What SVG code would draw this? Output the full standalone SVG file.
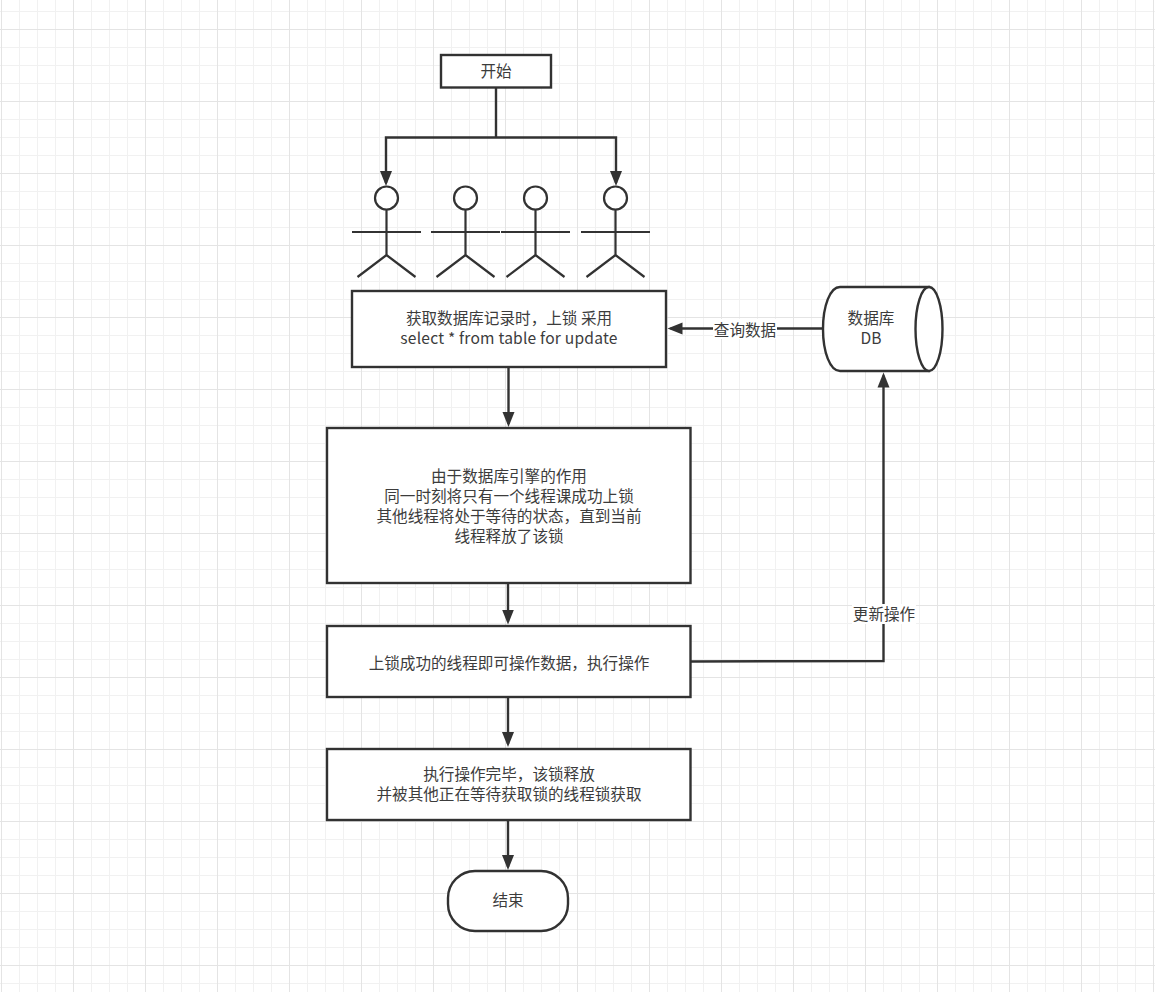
<svg xmlns="http://www.w3.org/2000/svg" width="1155" height="992" viewBox="0 0 1155 992">
<style>
.s{fill:#fff;stroke:#323232;stroke-width:2.4}
.c{fill:none;stroke:#323232;stroke-width:2.4}
.h{fill:#fff;stroke:#323232;stroke-width:2.2}
.b{fill:none;stroke:#323232;stroke-width:2.2}
text{font-family:"Noto Sans CJK SC","Liberation Sans",sans-serif;font-size:15.6px;fill:#3c3c3c;text-anchor:middle}
.l{letter-spacing:.2px}
</style>
<defs>
<pattern id="minor" width="18" height="18" patternUnits="userSpaceOnUse" x="1" y="11">
<path d="M0.5 0V18M0 0.5H18" fill="none" stroke="#f1f1f1" stroke-width="1"/>
</pattern>
<pattern id="major" width="72" height="72" patternUnits="userSpaceOnUse" x="1" y="29">
<path d="M0.5 0V72M0 0.5H72" fill="none" stroke="#e4e4e4" stroke-width="1"/>
</pattern>
<marker id="arr" markerWidth="16" markerHeight="13" refX="12" refY="6.500" orient="auto" markerUnits="userSpaceOnUse">
<path d="M0 0.5L15 6.500L0 12.500Z" fill="#323232"/>
</marker>
<g id="actor">
<circle cx="0" cy="11" r="11.500" class="h"/>
<path class="b" d="M0 22.500V68M-34.500 45H34.500M-29 90L0 68L29 90"/>
</g>
</defs>
<rect width="1155" height="992" fill="#fff"/>
<rect width="1155" height="992" fill="url(#minor)"/>
<rect width="1155" height="992" fill="url(#major)"/>
<g id="connectors">
<path class="c" d="M496 88V137.500"/>
<path class="c" d="M496 137.500H386V183" marker-end="url(#arr)"/>
<path class="c" d="M496 137.500H616V183" marker-end="url(#arr)"/>
<path class="c" d="M823 328.500H670.500" marker-end="url(#arr)"/>
<path class="c" d="M508.500 368V424" marker-end="url(#arr)"/>
<path class="c" d="M508 584V621.500" marker-end="url(#arr)"/>
<path class="c" d="M508 698V744" marker-end="url(#arr)"/>
<path class="c" d="M508 821V867" marker-end="url(#arr)"/>
<path class="c" d="M691 661.500L883.500 661V375.500" marker-end="url(#arr)"/>
</g>
<g id="start"><rect class="s" x="441" y="55" width="110" height="32.500"/><text x="496" y="77">开始</text></g>
<g id="actor1"><use href="#actor" x="386.500" y="187"/></g>
<g id="actor2"><use href="#actor" x="465.500" y="187"/></g>
<g id="actor3"><use href="#actor" x="535.500" y="187"/></g>
<g id="actor4"><use href="#actor" x="615.500" y="187"/></g>
<g id="lock"><rect class="s" x="352" y="291" width="314" height="76"/><text x="509" y="324">获取数据库记录时，上锁 采用</text><text class="l" x="509" y="344">select * from table for update</text></g>
<g id="db"><path class="s" d="M840 287H929V371H840C830 371 823 352 823 329C823 306 830 287 840 287Z"/><ellipse class="s" cx="929" cy="329" rx="13.500" ry="42"/><text x="871" y="324">数据库</text><text x="871" y="344">DB</text></g>
<g id="engine"><rect class="s" x="327" y="428" width="363.500" height="155"/><text x="509" y="482">由于数据库引擎的作用</text><text x="509" y="502">同一时刻将只有一个线程课成功上锁</text><text x="509" y="522">其他线程将处于等待的状态，直到当前</text><text x="509" y="542">线程释放了该锁</text></g>
<g id="operate"><rect class="s" x="327" y="626" width="363.500" height="71"/><text x="509" y="668.500">上锁成功的线程即可操作数据，执行操作</text></g>
<g id="release"><rect class="s" x="327" y="749" width="363.500" height="71"/><text x="509" y="780">执行操作完毕，该锁释放</text><text x="509" y="800">并被其他正在等待获取锁的线程锁获取</text></g>
<g id="end"><rect class="s" x="448" y="871" width="120" height="60" rx="27" ry="27"/><text x="508" y="906">结束</text></g>
<g id="labels">
<rect x="713" y="319" width="64" height="20" fill="#fff"/><text x="745" y="335.500">查询数据</text>
<rect x="852" y="604" width="64" height="20" fill="#fff"/><text x="884" y="619.500">更新操作</text>
</g>
</svg>
